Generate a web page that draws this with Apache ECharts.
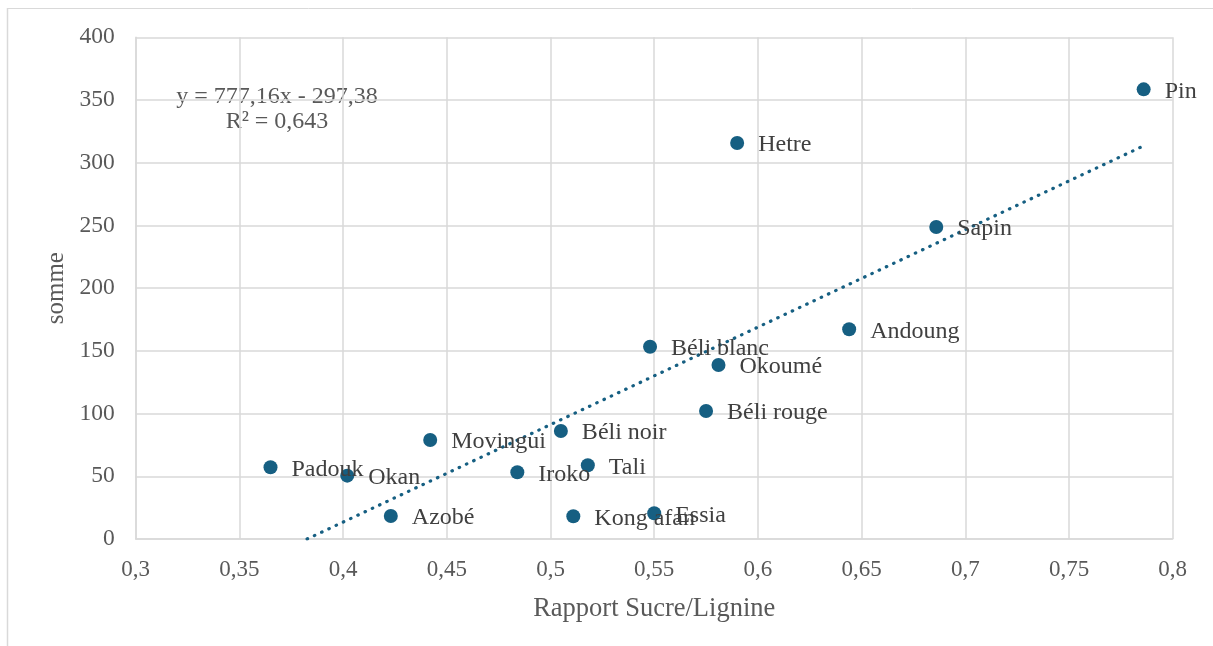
<!DOCTYPE html>
<html>
<head>
<meta charset="utf-8">
<script src="https://cdn.jsdelivr.net/npm/echarts@6/dist/echarts.min.js"></script>
<style>
html,body{margin:0;padding:0;background:#fff;}
#chart{width:1213px;height:646px;}
</style>
</head>
<body>
<div id="chart"></div>
<script>
const names = ['Pin','Hetre','Sapin','Andoung','Béli blanc','Okoumé','Béli rouge','Béli noir','Movingui','Padouk','Okan','Iroko','Tali','Azobé','Kong afan','Essia'];
const ratio = [0.786,0.590,0.686,0.644,0.548,0.581,0.575,0.505,0.442,0.365,0.402,0.484,0.518,0.423,0.511,0.550];
const somme = [358.5,315.7,248.7,167.2,153.3,138.7,102,86.1,78.9,57.2,50.5,53.2,58.8,18.3,18.1,20.5];
const xTicks = {min:0.3, max:0.8, interval:0.05};
const yTicks = {min:0, max:400, interval:50};
const trendSlope = 777.16;
const trendIntercept = -297.38;
const trendText = ['y = 777,16x - 297,38', 'R² = 0,643'];
const xTitle = 'Rapport Sucre/Lignine';
const yTitle = 'somme';

const FONT = '"Liberation Serif", "Times New Roman", serif';
const COLOR = '#165f82';

const pts = names.map((n,i)=>({name:n, value:[ratio[i], somme[i]]}));
const xMaxData = Math.max(...ratio);
const xMinData = Math.min(...ratio);
const xStart = Math.max(xMinData, -trendIntercept/trendSlope);
const trend = [[xStart, trendSlope*xStart+trendIntercept],[xMaxData, trendSlope*xMaxData+trendIntercept]];

const fmt = v => String(Math.round(v*1000)/1000).replace('.', ',');

const chart = echarts.init(document.getElementById('chart'), null, {renderer:'canvas'});
chart.setOption({
  backgroundColor:'#fff',
  animation:false,
  grid:{left:135.7, right:40.3, top:37.3, bottom:107, containLabel:false},
  xAxis:{
    type:'value', min:xTicks.min, max:xTicks.max, interval:xTicks.interval,
    name:xTitle, nameLocation:'middle', nameGap:57,
    nameTextStyle:{fontFamily:FONT, fontSize:26.5, color:'#595959'},
    axisLine:{show:true, lineStyle:{color:'#d9d9d9', width:1.5}},
    axisTick:{show:false},
    axisLabel:{fontFamily:FONT, fontSize:23, color:'#595959', margin:19, formatter:fmt},
    splitLine:{show:true, lineStyle:{color:'#d9d9d9', width:1.5}}
  },
  yAxis:{
    type:'value', min:yTicks.min, max:yTicks.max, interval:yTicks.interval,
    name:yTitle, nameLocation:'middle', nameGap:67, nameRotate:90,
    nameTextStyle:{fontFamily:FONT, fontSize:25, color:'#595959'},
    axisLine:{show:true, lineStyle:{color:'#d9d9d9', width:1.5}},
    axisTick:{show:false},
    axisLabel:{fontFamily:FONT, fontSize:23.5, color:'#595959', margin:21},
    splitLine:{show:true, lineStyle:{color:'#d9d9d9', width:1.5}}
  },
  series:[
    {
      type:'line', data:trend, showSymbol:false, symbol:'none', silent:true,
      lineStyle:{color:COLOR, width:3.2, type:[0.5,7.5], cap:'round'},
      z:1
    },
    {
      type:'scatter', data:pts, symbolSize:14,
      itemStyle:{color:COLOR, opacity:1},
      label:{show:true, position:'right', distance:14, offset:[0,2], formatter:p=>p.name,
        fontFamily:FONT, fontSize:24, color:'#404040'},
      z:3
    }
  ],
  graphic:[
    {type:'line', shape:{x1:7, y1:8.5, x2:1213, y2:8.5}, style:{stroke:'#d9d9d9', lineWidth:1}},
    {type:'line', shape:{x1:7.5, y1:8, x2:7.5, y2:646}, style:{stroke:'#d9d9d9', lineWidth:1.5}},
    {type:'text', x:277, y:97, style:{text:trendText[0], fontFamily:FONT, fontSize:24, fill:'#595959', textAlign:'center', textVerticalAlign:'middle'}},
    {type:'text', x:277, y:122, style:{text:trendText[1], fontFamily:FONT, fontSize:24, fill:'#595959', textAlign:'center', textVerticalAlign:'middle'}}
  ]
});
</script>
</body>
</html>
